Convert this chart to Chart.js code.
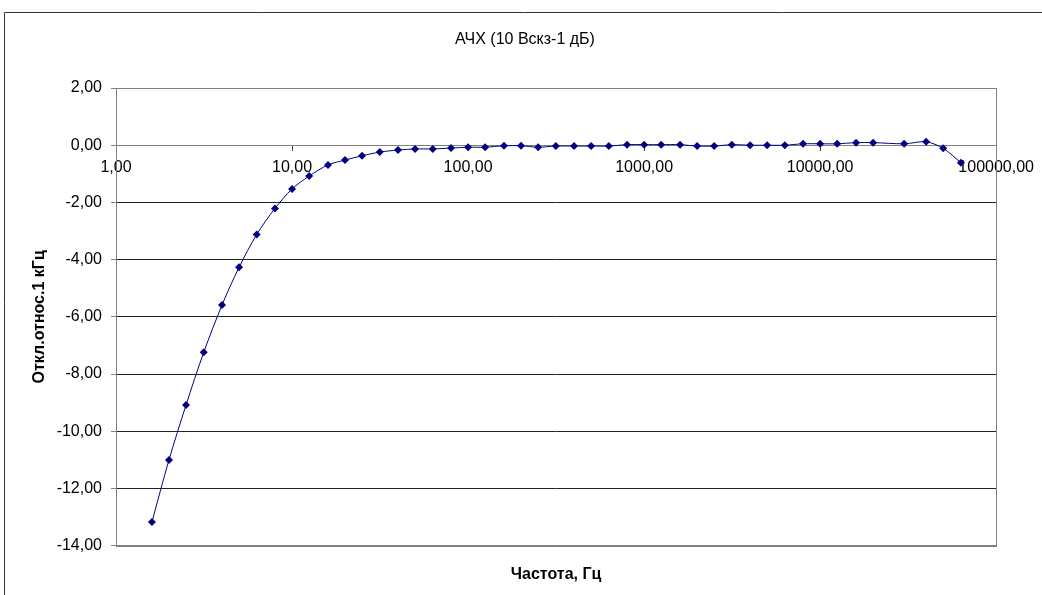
<!DOCTYPE html>
<html>
<head>
<meta charset="utf-8">
<script src="https://cdn.jsdelivr.net/npm/chart.js@4"></script>
<style>
  body { margin: 0; background: #fff; }
</style>
</head>
<body>
<canvas id="achChart" width="1042" height="595"></canvas>
<script>

var freqs = [1.6, 2, 2.5, 3.15, 4, 5, 6.3, 8,
  10, 12.5, 16, 20, 25, 31.5, 40, 50, 63, 80,
  100, 125, 160, 200, 250, 315, 400, 500, 630, 800,
  1000, 1250, 1600, 2000, 2500, 3150, 4000, 5000, 6300, 8000,
  10000, 12500, 16000, 20000, 30000, 40000, 50000, 63000];

var deviation = [-13.17, -11.0, -9.08, -7.24, -5.59, -4.27, -3.12, -2.21,
  -1.53, -1.08, -0.69, -0.52, -0.37, -0.24, -0.17, -0.13, -0.13, -0.10,
  -0.07, -0.07, -0.02, -0.02, -0.07, -0.03, -0.03, -0.03, -0.03, 0.02,
  0.02, 0.02, 0.02, -0.03, -0.03, 0.02, 0, 0, 0, 0.05,
  0.05, 0.05, 0.09, 0.09, 0.05, 0.12, -0.11, -0.61];

var xTicks = [1, 10, 100, 1000, 10000, 100000];

var FONT = "'Liberation Sans', Arial, sans-serif";

function fmt(v) {
  return Number(v).toFixed(2).replace('.', ',');
}

var points = [];
for (var i = 0; i < freqs.length; i++) {
  points.push({ x: freqs[i], y: deviation[i] });
}

// рамки: внешняя рамка диаграммы и рамка области построения
var framePlugin = {
  id: 'frames',
  beforeDatasetsDraw: function(chart) {
    var a = chart.chartArea;
    var ctx = chart.ctx;
    ctx.save();
    ctx.strokeStyle = '#808080';
    ctx.lineWidth = 1;
    ctx.strokeRect(Math.round(a.left) + 0.5, Math.round(a.top) + 0.5,
      Math.round(a.right - a.left), Math.round(a.bottom - a.top));
    ctx.restore();
  },
  afterDraw: function(chart) {
    var ctx = chart.ctx;
    ctx.save();
    ctx.strokeStyle = '#333';
    ctx.lineWidth = 1;
    ctx.beginPath();
    ctx.moveTo(4.5, chart.height);
    ctx.lineTo(4.5, 12.5);
    ctx.lineTo(chart.width, 12.5);
    ctx.stroke();
    ctx.restore();
  }
};

var ctx = document.getElementById('achChart').getContext('2d');
var chart = new Chart(ctx, {
  type: 'line',
  data: {
    datasets: [{
      label: 'АЧХ',
      data: points,
      xAxisID: 'x',
      yAxisID: 'y',
      borderColor: '#000080',
      backgroundColor: '#000080',
      borderWidth: 1,
      tension: 0.3,
      pointStyle: 'rectRot',
      pointRadius: 4,
      pointBorderWidth: 0
    }]
  },
  options: {
    responsive: false,
    animation: false,
    layout: { padding: { left: 8, right: 0, top: 0, bottom: 0 } },
    plugins: {
      legend: { display: false },
      tooltip: { enabled: false },
      title: {
        display: true,
        text: 'АЧХ (10 Вскз-1 дБ)',
        color: '#000',
        font: { family: FONT, size: 16, weight: 'normal' },
        padding: { top: 30.4, bottom: 38.4 }
      }
    },
    scales: {
      x: {
        type: 'logarithmic',
        min: 1,
        max: 100000,
        position: { y: 0 },
        afterBuildTicks: function(scale) {
          scale.ticks = xTicks.map(function(v) { return { value: v }; });
        },
        ticks: {
          color: '#000',
          font: { family: FONT, size: 16 },
          padding: 8,
          autoSkip: false,
          maxRotation: 0,
          callback: function(v) { return fmt(v); }
        },
        grid: {
          drawOnChartArea: false,
          drawTicks: true,
          tickLength: 5,
          tickColor: '#404040'
        },
        border: { display: true, color: '#808080', width: 1 }
      },
      xTitle: {
        type: 'linear',
        position: 'bottom',
        min: 0,
        max: 1,
        ticks: { display: false },
        grid: { display: false },
        border: { display: false },
        title: {
          display: true,
          text: 'Частота, Гц',
          color: '#000',
          font: { family: FONT, size: 16, weight: 'bold' },
          padding: { top: 0, bottom: 10.4 }
        },
        afterFit: function(scale) { scale.height = 49.3; }
      },
      y: {
        type: 'linear',
        position: 'left',
        min: -14,
        max: 2,
        ticks: {
          stepSize: 2,
          color: '#000',
          font: { family: FONT, size: 16 },
          padding: 9,
          callback: function(v) { return fmt(v); }
        },
        grid: {
          color: function(c) {
            var v = c.tick ? c.tick.value : 0;
            return (v === 2 || v === -14) ? '#808080' : '#222';
          },
          tickLength: 5,
          tickColor: '#808080'
        },
        border: { display: true, color: '#808080', width: 1 },
        title: {
          display: true,
          text: 'Откл.относ.1 кГц',
          color: '#000',
          font: { family: FONT, size: 16, weight: 'bold' },
          padding: { top: 22.4, bottom: 0 }
        },
        afterFit: function(scale) { scale.width = 108; }
      },
      ySpace: {
        type: 'linear',
        position: 'right',
        ticks: { display: false },
        grid: { display: false },
        border: { display: false },
        afterFit: function(scale) { scale.width = 42; }
      }
    }
  },
  plugins: [framePlugin]
});

</script>
</body>
</html>
